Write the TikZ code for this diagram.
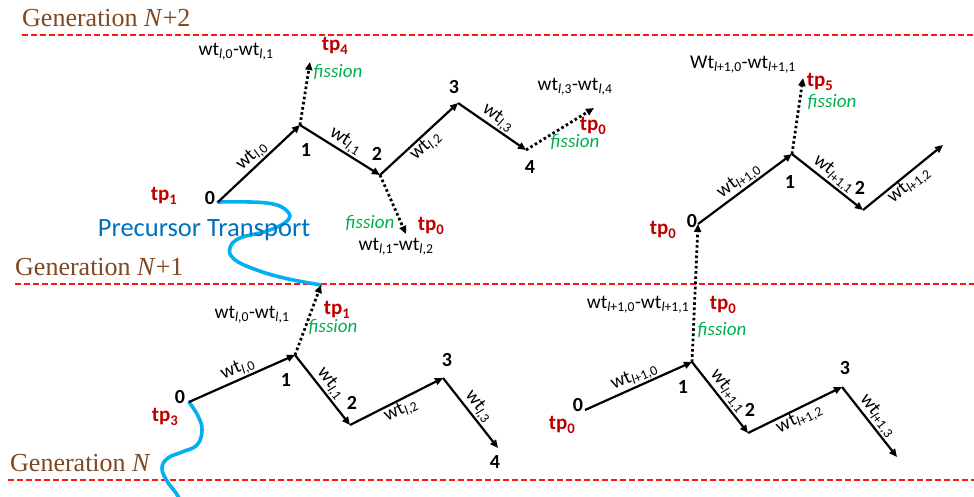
\documentclass[tikz,border=0pt]{standalone}
\usepackage{fontspec}
\setmainfont{Carlito}
\newfontfamily\genfont{Liberation Serif}
\usetikzlibrary{arrows.meta}
\definecolor{gencol}{RGB}{128,72,32}
\definecolor{tpred}{RGB}{192,0,0}
\definecolor{fisgreen}{RGB}{0,176,80}
\definecolor{ptblue}{RGB}{0,112,192}
\definecolor{curveblue}{RGB}{0,176,240}
\definecolor{genred}{RGB}{255,20,20}
\newcommand\wtl[1]{wt\textsubscript{\textit{l},#1}}
\newcommand\wtm[1]{wt\textsubscript{\textit{l}+1,#1}}
\newcommand\tpn[1]{tp\textsubscript{#1}}
\tikzset{
  num/.style={font=\fontsize{20}{20}\selectfont\bfseries, inner sep=0pt},
  tplab/.style={text=tpred, font=\fontsize{21}{21}\selectfont\bfseries, inner sep=0pt},
  fis/.style={text=fisgreen, font=\fontsize{19}{19}\selectfont\itshape, inner sep=0pt},
  wlab/.style={font=\fontsize{19.5}{19.5}\selectfont, inner sep=0.5pt},
  difflab/.style={font=\fontsize{19.5}{19.5}\selectfont, inner sep=0pt},
  seg/.style={line width=2.2pt, -{Triangle[length=8pt,width=7pt]}},
  fdot/.style={line width=2.8pt, dash pattern=on 2.6pt off 2.6pt, -{Triangle[length=8pt,width=7pt]}},
  genline/.style={genred, line width=1.4pt, dash pattern=on 6pt off 3pt},
  genlab/.style={anchor=west, text=gencol, font=\genfont\fontsize{26}{26}\selectfont, inner sep=0pt},
  curve/.style={curveblue, line width=3.6pt, line cap=round}
}
\begin{document}
\begin{tikzpicture}[x=1pt,y=-1pt]
\path[use as bounding box, fill=white] (0,0) rectangle (974,496);
% generation lines
\coordinate (g2a) at (22,35); \coordinate (g2b) at (974,35);
\coordinate (g1a) at (15,284); \coordinate (g1b) at (974,284);
\coordinate (g0a) at (8,480); \coordinate (g0b) at (974,480);
\draw[genline] (g2a) -- (g2b);
\draw[genline] (g1a) -- (g1b);
\draw[genline] (g0a) -- (g0b);
\node[genlab] (gen2) at (22,18) {Generation \textit{N}+2};
\node[genlab] (gen1) at (15,267) {Generation \textit{N}+1};
\node[genlab] (gen0) at (10,463) {Generation \textit{N}};

% top-left chain
\coordinate (a0) at (218,202); \coordinate (a1) at (300,125);
\coordinate (a2) at (380,175); \coordinate (a3) at (458,103);
\coordinate (a4) at (526,150);
\coordinate (a1f) at (310,62); \coordinate (a2f) at (406,234); \coordinate (a4f) at (594,108);
% bottom-left chain
\coordinate (b0) at (189,402); \coordinate (b1) at (295,355);
\coordinate (b2) at (350,425); \coordinate (b3) at (443,378);
\coordinate (b4) at (498,448); \coordinate (b1f) at (321,285);
% bottom-right chain
\coordinate (c0) at (585,410); \coordinate (c1) at (692,362);
\coordinate (c2) at (748,433); \coordinate (c3) at (842,387);
\coordinate (c4) at (897,457);
% top-right chain
\coordinate (d0) at (698,224); \coordinate (d1) at (792,154);
\coordinate (d2) at (863,210); \coordinate (d3) at (943,145);
\coordinate (d1f) at (803,78);

% precursor transport curves
\draw[curve] plot[smooth, tension=0.7] coordinates {(a0) (267,203) (287,211) (287,221) (267,231) (240,238) (230,248) (234,259) (254,269) (284,278) (b1f)};
\draw[curve] plot[smooth, tension=0.7] coordinates {(b0) (198,416) (202,430) (197,445) (182,452) (168,458) (162,468) (167,481) (176,493) (180,500)};
\node[text=ptblue, font=\fontsize{26.5}{26.5}\selectfont, inner sep=0pt] (pt) at (204,230) {Precursor Transport};

% top-left
\draw[seg] (a0) -- node[wlab, midway, above, sloped] {\wtl{0}} (a1);
\draw[seg] (a1) -- node[wlab, midway, above, sloped] {\wtl{1}} (a2);
\draw[seg] (a2) -- node[wlab, midway, below, sloped] {\wtl{2}} (a3);
\draw[seg] (a3) -- node[wlab, midway, above, sloped] {\wtl{3}} (a4);
\draw[fdot] (a1) -- (a1f);
\draw[fdot] (a2) -- (a2f);
\draw[fdot] (a4) -- (a4f);
\node[num] (na0) at (210,198) {0};
\node[num] (na1) at (306,150) {1};
\node[num] (na2) at (377,154) {2};
\node[num] (na3) at (454,87) {3};
\node[num] (na4) at (530,167) {4};
\node[tplab] (tpa0) at (164,196) {\tpn{1}};
\node[difflab] (da1) at (236,52) {\wtl{0}-\wtl{1}};
\node[tplab] (tpa1) at (335,46) {\tpn{4}};
\node[fis] (fa1) at (338,72) {fission};
\node[fis] (fa2) at (370,223) {fission};
\node[tplab] (tpa2) at (431,226) {\tpn{0}};
\node[difflab] (da2) at (396,247) {\wtl{1}-\wtl{2}};
\node[difflab] (da4) at (575,87) {\wtl{3}-\wtl{4}};
\node[tplab] (tpa4) at (593,126) {\tpn{0}};
\node[fis] (fa4) at (575,142) {fission};

% bottom-left
\draw[seg] (b0) -- node[wlab, midway, above, sloped] {\wtl{0}} (b1);
\draw[seg] (b1) -- node[wlab, midway, above, sloped] {\wtl{1}} (b2);
\draw[seg] (b2) -- node[wlab, midway, below, sloped] {\wtl{2}} (b3);
\draw[seg] (b3) -- node[wlab, midway, above, sloped] {\wtl{3}} (b4);
\draw[fdot] (b1) -- (b1f);
\node[num] (nb0) at (180,397) {0};
\node[num] (nb1) at (286,380) {1};
\node[num] (nb2) at (352,403) {2};
\node[num] (nb3) at (447,360) {3};
\node[num] (nb4) at (495,462) {4};
\node[tplab] (tpb0) at (165,417) {\tpn{3}};
\node[difflab] (db1) at (252,315) {\wtl{0}-\wtl{1}};
\node[tplab] (tpb1) at (337,310) {\tpn{1}};
\node[fis] (fb1) at (333,327) {fission};

% bottom-right
\draw[seg] (c0) -- node[wlab, midway, above, sloped] {\wtm{0}} (c1);
\draw[seg] (c1) -- node[wlab, midway, above, sloped] {\wtm{1}} (c2);
\draw[seg] (c2) -- node[wlab, midway, below, sloped] {\wtm{2}} (c3);
\draw[seg] (c3) -- node[wlab, midway, above, sloped] {\wtm{3}} (c4);
\draw[fdot] (c1) -- (d0);
\node[num] (nc0) at (578,405) {0};
\node[num] (nc1) at (683,387) {1};
\node[num] (nc2) at (750,410) {2};
\node[num] (nc3) at (845,368) {3};
\node[tplab] (tpc0) at (562,425) {\tpn{0}};
\node[difflab] (dc1) at (638,305) {\wtm{0}-\wtm{1}};
\node[tplab] (tpc1) at (723,305) {\tpn{0}};
\node[fis] (fc1) at (722,330) {fission};

% top-right
\draw[seg] (d0) -- node[wlab, midway, above, sloped] {\wtm{0}} (d1);
\draw[seg] (d1) -- node[wlab, midway, above, sloped] {\wtm{1}} (d2);
\draw[seg] (d2) -- node[wlab, midway, below, sloped] {\wtm{2}} (d3);
\draw[fdot] (d1) -- (d1f);
\node[num] (nd0) at (692,221) {0};
\node[num] (nd1) at (790,182) {1};
\node[num] (nd2) at (860,188) {2};
\node[tplab] (tpd0) at (663,230) {\tpn{0}};
\node[difflab] (dd1) at (743,65) {Wt\textsubscript{\textit{l}+1,0}-\wtm{1}};
\node[tplab] (tpd1) at (820,82) {\tpn{5}};
\node[fis] (fd1) at (832,102) {fission};
\end{tikzpicture}
\end{document}
